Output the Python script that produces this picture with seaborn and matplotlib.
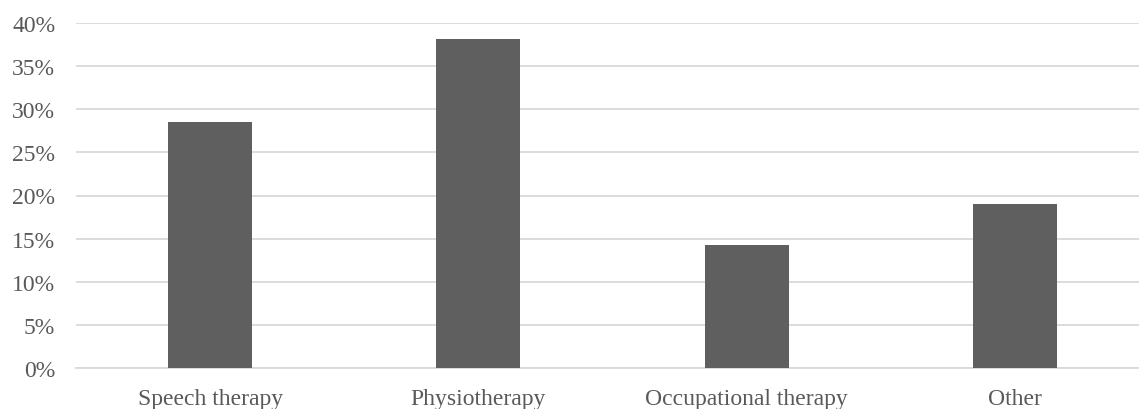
import matplotlib
matplotlib.use("Agg")
import matplotlib.pyplot as plt
import matplotlib.ticker as mticker
import seaborn as sns
import pandas as pd

categories = ["Speech therapy", "Physiotherapy", "Occupational therapy", "Other"]
shares = [28.57, 38.10, 14.29, 19.05]
y_ticks = [0, 5, 10, 15, 20, 25, 30, 35, 40]

df = pd.DataFrame({"category": categories, "share": shares})

sns.set_theme(style="white")
plt.rcParams["font.family"] = ["Liberation Serif", "DejaVu Serif"]

text_color = "#595959"
grid_color = "#d9d9d9"
bar_color = "#5f5f5f"

fig = plt.figure(figsize=(11.39, 4.10), dpi=100)
ax = fig.add_axes([76 / 1139, 41 / 410, 1073 / 1139, 345 / 410])

sns.barplot(data=df, x="category", y="share", color=bar_color, width=0.313,
            saturation=1, edgecolor="none", ax=ax, zorder=3)

ax.set_xlim(-0.5, 3.5)
ax.set_ylim(0, 40)
ax.set_yticks(y_ticks)
ax.yaxis.set_major_formatter(mticker.FuncFormatter(lambda v, _: f"{v:.0f}%"))
ax.grid(axis="y", color=grid_color, linewidth=1.3, zorder=0)
ax.grid(axis="x", visible=False)

for side in ("left", "right", "top"):
    ax.spines[side].set_visible(False)
ax.spines["bottom"].set_color(grid_color)
ax.spines["bottom"].set_linewidth(1.3)

ax.tick_params(axis="both", length=0, labelsize=17, labelcolor=text_color)
ax.tick_params(axis="y", pad=15)
ax.tick_params(axis="x", pad=14.5)
ax.set_xlabel("")
ax.set_ylabel("")

fig.savefig("out.png", dpi=100, facecolor="white")
